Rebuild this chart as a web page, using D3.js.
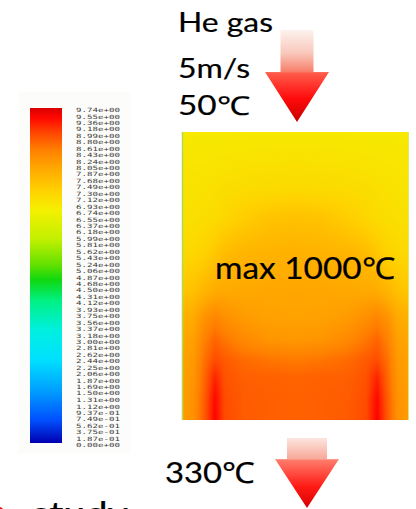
<!DOCTYPE html>
<html><head><meta charset="utf-8">
<script src="https://cdn.jsdelivr.net/npm/d3@7"></script>
<style>html,body{margin:0;padding:0;background:#fff;overflow:hidden;} svg{display:block;}</style>
</head><body>
<script>
// Colour-bar tick values, top to bottom
const barTicks = [9.74, 9.55, 9.36, 9.18, 8.99, 8.80, 8.61, 8.43, 8.24, 8.05,
  7.87, 7.68, 7.49, 7.30, 7.12, 6.93, 6.74, 6.55, 6.37, 6.18,
  5.99, 5.81, 5.62, 5.43, 5.24, 5.06, 4.87, 4.68, 4.50, 4.31,
  4.12, 3.93, 3.75, 3.56, 3.37, 3.18, 3.00, 2.81, 2.62, 2.44,
  2.25, 2.06, 1.87, 1.69, 1.50, 1.31, 1.12, 0.937, 0.749, 0.562, 0.375, 0.187, 0];

// Rainbow colour map: position along the range and colour
const mapStops = [0, 0.069, 0.158, 0.248, 0.337, 0.427, 0.487, 0.53, 0.606, 0.695, 0.755, 0.82, 0.875, 0.93, 0.97, 1.0];
const mapColors = ["#0000b0", "#0050ff", "#00a0ff", "#00e0ff", "#00f0e0", "#00f080", "#10d810", "#60e000",
  "#c0f000", "#f4f000", "#ffd000", "#ffa800", "#ff8000", "#ff4000", "#ff0800", "#d80000"];

// Field sample positions (fraction of width / height of the domain)
const fieldCols = [0, 0.05, 0.10, 0.145, 0.19, 0.27, 0.38, 0.5, 0.62, 0.73, 0.81, 0.86, 0.905, 0.95, 1.0];
const fieldRows = [0, 0.20, 0.30, 0.42, 0.55, 0.64, 0.72, 0.79, 0.85, 0.92, 1.0];

// Field values at each sample (rows top to bottom, columns left to right)
const fieldValues = [
  [6.90, 6.90, 6.90, 6.90, 6.90, 6.90, 6.90, 6.90, 6.90, 6.90, 6.90, 6.90, 6.90, 6.90, 6.90],
  [7.02, 7.03, 7.05, 7.08, 7.12, 7.15, 7.18, 7.20, 7.18, 7.15, 7.12, 7.08, 7.05, 7.03, 7.02],
  [7.06, 7.08, 7.12, 7.16, 7.25, 7.40, 7.55, 7.60, 7.55, 7.40, 7.25, 7.16, 7.12, 7.08, 7.06],
  [7.20, 7.24, 7.32, 7.50, 7.68, 7.78, 7.82, 7.84, 7.82, 7.78, 7.68, 7.50, 7.32, 7.24, 7.20],
  [7.50, 7.60, 7.78, 7.92, 7.96, 7.98, 8.00, 8.02, 8.00, 7.98, 7.96, 7.92, 7.78, 7.60, 7.50],
  [7.85, 7.95, 8.26, 8.42, 8.30, 8.15, 8.08, 8.06, 8.08, 8.15, 8.30, 8.42, 8.26, 7.95, 7.85],
  [8.00, 8.10, 8.50, 8.75, 8.60, 8.40, 8.24, 8.20, 8.24, 8.40, 8.60, 8.75, 8.50, 8.10, 8.00],
  [8.08, 8.18, 8.66, 8.95, 8.84, 8.70, 8.62, 8.56, 8.62, 8.70, 8.84, 8.95, 8.66, 8.18, 8.08],
  [8.10, 8.22, 8.75, 9.25, 8.90, 8.80, 8.78, 8.76, 8.78, 8.80, 8.90, 9.25, 8.75, 8.22, 8.10],
  [8.12, 8.28, 8.82, 9.45, 8.95, 8.83, 8.80, 8.78, 8.80, 8.83, 8.95, 9.45, 8.82, 8.28, 8.12],
  [8.15, 8.30, 8.86, 9.50, 8.97, 8.84, 8.80, 8.78, 8.80, 8.84, 8.97, 9.50, 8.86, 8.30, 8.15]
];

const W = 416, H = 509;
const vMax = d3.max(barTicks);

const svg = d3.select("body").append("svg").attr("width", W).attr("height", H);
const defs = svg.append("defs");

const colour = d3.scaleLinear()
  .domain(mapStops.map(t => t * vMax))
  .range(mapColors)
  .interpolate(d3.interpolateRgb)
  .clamp(true);

// ---- colour bar ----
const bar = {x: 30, y: 108, w: 32, h: 335};
svg.append("rect").attr("x", 18).attr("y", 92).attr("width", 112).attr("height", 362)
  .attr("fill", "#fcfdfa");

const barGrad = defs.append("linearGradient").attr("id", "barGrad")
  .attr("x1", 0).attr("y1", 1).attr("x2", 0).attr("y2", 0);
barGrad.selectAll("stop").data(mapStops).join("stop")
  .attr("offset", d => d)
  .attr("stop-color", (d, i) => mapColors[i]);

svg.append("rect").attr("x", bar.x).attr("y", bar.y).attr("width", bar.w).attr("height", bar.h)
  .attr("fill", "url(#barGrad)");

const yBar = d3.scaleLinear().domain([0, vMax]).range([445, 110]);
const fmt = d => d3.format(".2e")(d).replace(/e([+-])(\d)$/, "e$10$2");

svg.append("g").selectAll("text").data(barTicks).join("text")
  .attr("x", 76).attr("y", d => yBar(d))
  .attr("dy", "0.35em")
  .attr("font-family", "DejaVu Sans Mono")
  .attr("font-size", 5.8)
  .attr("textLength", 44).attr("lengthAdjust", "spacingAndGlyphs")
  .attr("fill", "#3c3c3c")
  .text(fmt);

// ---- temperature field ----
const box = {x: 182, y: 132, w: 227, h: 288};
const colIdx = d3.scaleLinear().domain(fieldCols).range(d3.range(fieldCols.length)).clamp(true);
const rowIdx = d3.scaleLinear().domain(fieldRows).range(d3.range(fieldRows.length)).clamp(true);

const cw = box.w, ch = box.h;
const canvas = document.createElement("canvas");
canvas.width = cw; canvas.height = ch;
const ctx = canvas.getContext("2d");
const img = ctx.createImageData(cw, ch);
for (let py = 0; py < ch; py++) {
  const fy = rowIdx((py + 0.5) / ch);
  const r0 = Math.min(Math.floor(fy), fieldRows.length - 2), ry = fy - r0;
  for (let px = 0; px < cw; px++) {
    const fx = colIdx((px + 0.5) / cw);
    const c0 = Math.min(Math.floor(fx), fieldCols.length - 2), rx = fx - c0;
    const v = (fieldValues[r0][c0] * (1 - rx) + fieldValues[r0][c0 + 1] * rx) * (1 - ry)
            + (fieldValues[r0 + 1][c0] * (1 - rx) + fieldValues[r0 + 1][c0 + 1] * rx) * ry;
    const c = d3.rgb(colour(v));
    const k = (py * cw + px) * 4;
    img.data[k] = c.r; img.data[k + 1] = c.g; img.data[k + 2] = c.b; img.data[k + 3] = 255;
  }
}
ctx.putImageData(img, 0, 0);

svg.append("image")
  .attr("x", box.x).attr("y", box.y).attr("width", box.w).attr("height", box.h)
  .attr("preserveAspectRatio", "none")
  .attr("href", canvas.toDataURL());

// thin side walls
svg.append("line").attr("x1", box.x + 0.5).attr("x2", box.x + 0.5).attr("y1", box.y).attr("y2", box.y + box.h)
  .attr("stroke", "#b8d850").attr("stroke-width", 1.5);
svg.append("line").attr("x1", box.x + box.w - 0.5).attr("x2", box.x + box.w - 0.5).attr("y1", box.y).attr("y2", box.y + box.h)
  .attr("stroke", "#d8e870").attr("stroke-width", 1);

// ---- flow arrows ----
function arrowGrad(id, stops) {
  const g = defs.append("linearGradient").attr("id", id)
    .attr("x1", 0).attr("y1", 0).attr("x2", 0).attr("y2", 1);
  g.selectAll("stop").data(stops).join("stop")
    .attr("offset", d => d[0]).attr("stop-color", d => d[1]);
}
arrowGrad("arrTop", [[0, "#fdf2ee"], [0.25, "#f9c8bc"], [0.45, "#f7806c"], [0.47, "#ff5a4a"], [0.75, "#ff0a0a"], [1, "#c80000"]]);
arrowGrad("arrBot", [[0, "#fbe6e0"], [0.3, "#f8a898"], [0.32, "#ff7a6a"], [0.7, "#ff1a14"], [1, "#d80000"]]);

function arrow(cx, top, neck, tip, shaftHalf, headHalf, fill) {
  const p = d3.path();
  p.moveTo(cx - shaftHalf, top);
  p.lineTo(cx + shaftHalf, top);
  p.lineTo(cx + shaftHalf, neck);
  p.lineTo(cx + headHalf, neck);
  p.lineTo(cx, tip);
  p.lineTo(cx - headHalf, neck);
  p.lineTo(cx - shaftHalf, neck);
  p.closePath();
  svg.append("path").attr("d", p.toString()).attr("fill", fill);
}
arrow(297, 30, 72, 122, 16.5, 32, "url(#arrTop)");
arrow(307, 438, 459, 508, 20, 32, "url(#arrBot)");

// ---- annotations ----
const font = "Lato, 'Open Sans', sans-serif";
function label(txt, x, y, size, len) {
  svg.append("text").attr("x", x).attr("y", y)
    .attr("font-family", font).attr("font-size", size).attr("fill", "#000")
    .attr("stroke", "#000").attr("stroke-width", 0.2)
    .attr("textLength", len).attr("lengthAdjust", "spacingAndGlyphs")
    .text(txt);
}
label("He gas", 178, 32, 26, 95);
label("5m/s", 178, 78, 26, 72);
label("50℃", 178, 115, 26, 72);
label("max 1000℃", 215, 279, 30, 180);
label("330℃", 165, 483, 29, 90);

svg.append("circle").attr("cx", -3).attr("cy", 515).attr("r", 8.5).attr("fill", "#ff0000");
label("study", 32, 524, 30, 96);
</script>
</body></html>
